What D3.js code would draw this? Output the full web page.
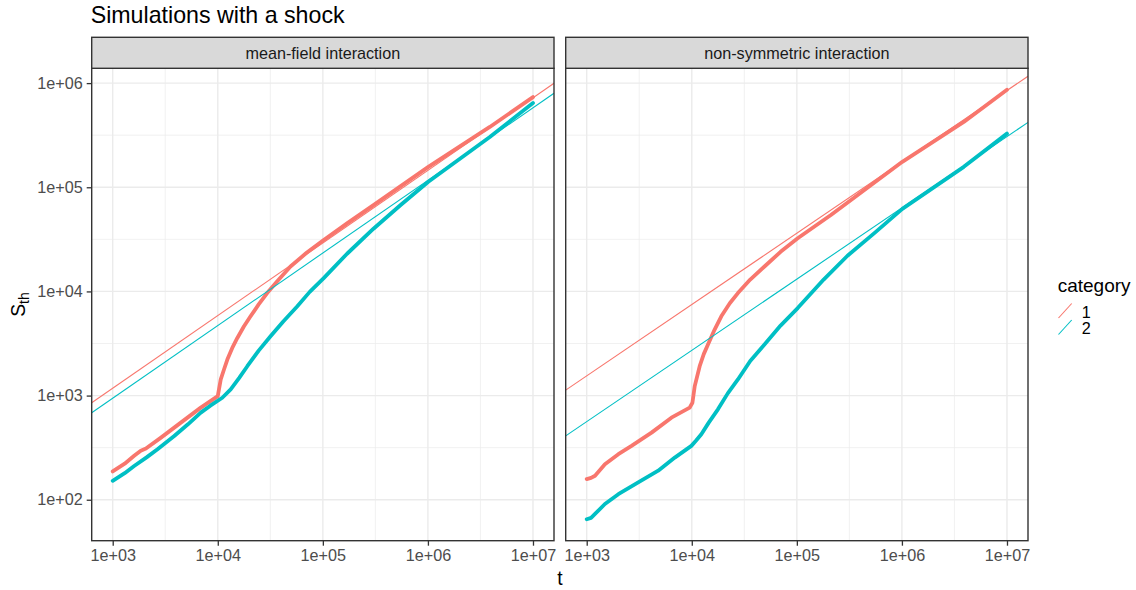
<!DOCTYPE html>
<html>
<head>
<meta charset="utf-8">
<script src="https://cdn.jsdelivr.net/npm/d3@7"></script>
<style>
  body { margin: 0; background: #fff; }
  svg { font-family: "Liberation Sans", Arial, sans-serif; }
</style>
</head>
<body>
<svg id="chart" width="1136" height="590"></svg>
<script>
// facet titles and legend categories
var panels = ["mean-field interaction", "non-symmetric interaction"];
var categories = ["1", "2"];
var colours = ["#F8766D", "#00BFC4"];

var tBreaks = [1e3, 1e4, 1e5, 1e6, 1e7];
var sBreaks = [1e2, 1e3, 1e4, 1e5, 1e6];

// mean-field, category 1
var mfT1 = [1000, 1300, 1600, 1850, 2070, 2880, 4450, 6890, 10000, 10670, 11500, 12330, 13700, 15350, 17700, 20510, 24500, 29510, 37000, 49200, 70000, 101900, 170000, 303400, 1009000, 3882000, 10000000];
var mfS1 = [187, 222, 264, 296, 310, 395, 550, 766, 989, 1429, 1800, 2218, 2850, 3573, 4600, 5768, 7500, 9638, 12600, 17340, 23500, 31190, 45000, 67450, 157000, 379300, 734500];
// mean-field, category 2
var mfT2 = [1000, 1300, 1600, 2100, 2670, 3850, 5200, 6890, 8500, 11040, 13270, 16000, 19100, 24500, 31770, 42000, 56890, 75000, 101900, 170000, 303400, 550000, 1009000, 3882000, 10000000];
var mfS2 = [152, 180, 211, 255, 305, 409, 530, 686, 800, 953, 1146, 1480, 1914, 2700, 3707, 5150, 7178, 9900, 13430, 23000, 40000, 67600, 113000, 304100, 644200];
// non-symmetric, category 1
var nsT1 = [1000, 1100, 1200, 1490, 2000, 2670, 4140, 6400, 9550, 10140, 10670, 11890, 13000, 14260, 16500, 19100, 23000, 27480, 36000, 49200, 70000, 101900, 210900, 1009000, 3882000, 10000000];
var nsS1 = [158, 162, 170, 219, 274, 329, 441, 614, 766, 853, 1233, 1914, 2500, 3090, 4300, 5768, 7700, 9638, 13000, 17340, 24000, 32360, 54200, 175400, 423600, 863000];
// non-symmetric, category 2
var nsT2 = [1000, 1100, 1200, 1490, 2000, 3090, 4790, 6890, 9910, 11000, 12330, 14500, 17740, 22000, 27480, 36000, 49200, 70000, 101900, 180000, 303400, 550000, 1009000, 3882000, 10000000];
var nsS2 = [65, 67, 73, 91, 113, 147, 190, 254, 329, 370, 425, 550, 738, 1050, 1429, 2150, 3090, 4700, 6918, 13000, 22000, 36500, 62000, 157000, 327300];

// fitted power laws: log10(S) = logC + slope * log10(t)
var fitSlope = [[0.697, 0.697], [0.685, 0.684]];
var fitLogC = [[0.980, 0.884], [1.134, 0.698]];

function init() {
    var svg = d3.select("#chart");

    var left = 91.7, top = 68.3, bottom = 540.7;
    var pw = 462.3, gap = 11.7, stripH = 31;

    var series = [
        [{t: mfT1, s: mfS1}, {t: mfT2, s: mfS2}],
        [{t: nsT1, s: nsS1}, {t: nsT2, s: nsS2}]
    ];

    // shared y scale, ggplot style 5% expansion in log space
    var allS = mfS1.concat(mfS2, nsS1, nsS2);
    var lo = Math.log10(d3.min(allS)), hi = Math.log10(d3.max(allS));
    var pad = (hi - lo) * 0.05;
    var yScale = d3.scaleLog()
        .domain([Math.pow(10, lo - pad), Math.pow(10, hi + pad)])
        .range([bottom, top]);

    var fmt = function(d) {
        var e = Math.round(Math.log10(d));
        return "1e+" + (e < 10 ? "0" + e : e);
    };

    // title
    svg.append("text")
        .attr("x", 90.7)
        .attr("y", 22.7)
        .style("font-size", "23.2px")
        .attr("fill", "#000")
        .text("Simulations with a shock");

    panels.forEach(function(name, p) {
        var x0 = left + p * (pw + gap);
        var xScale = d3.scaleLog()
            .domain([Math.pow(10, 2.8), Math.pow(10, 7.2)])
            .range([x0, x0 + pw]);

        var g = svg.append("g");

        // clip
        svg.append("clipPath").attr("id", "clip" + p)
            .append("rect")
            .attr("x", x0).attr("y", top)
            .attr("width", pw).attr("height", bottom - top);

        // minor grid at half decades
        var xMinor = [3.5, 4.5, 5.5, 6.5].map(function(e) { return Math.pow(10, e); });
        var yMinor = [2.5, 3.5, 4.5, 5.5].map(function(e) { return Math.pow(10, e); });

        g.selectAll(".xminor").data(xMinor).enter().append("line")
            .attr("x1", function(d) { return xScale(d); })
            .attr("x2", function(d) { return xScale(d); })
            .attr("y1", top).attr("y2", bottom)
            .attr("stroke", "#EBEBEB").attr("stroke-width", 0.7);
        g.selectAll(".yminor").data(yMinor).enter().append("line")
            .attr("y1", function(d) { return yScale(d); })
            .attr("y2", function(d) { return yScale(d); })
            .attr("x1", x0).attr("x2", x0 + pw)
            .attr("stroke", "#EBEBEB").attr("stroke-width", 0.7);

        g.selectAll(".xmajor").data(tBreaks).enter().append("line")
            .attr("x1", function(d) { return xScale(d); })
            .attr("x2", function(d) { return xScale(d); })
            .attr("y1", top).attr("y2", bottom)
            .attr("stroke", "#EBEBEB").attr("stroke-width", 1.4);
        g.selectAll(".ymajor").data(sBreaks).enter().append("line")
            .attr("y1", function(d) { return yScale(d); })
            .attr("y2", function(d) { return yScale(d); })
            .attr("x1", x0).attr("x2", x0 + pw)
            .attr("stroke", "#EBEBEB").attr("stroke-width", 1.4);

        // simulation curves
        var line = d3.line()
            .x(function(d) { return xScale(d[0]); })
            .y(function(d) { return yScale(d[1]); });

        series[p].forEach(function(sr, c) {
            var pts = d3.zip(sr.t, sr.s);
            g.append("path")
                .datum(pts)
                .attr("d", line)
                .attr("fill", "none")
                .attr("stroke", colours[c])
                .attr("stroke-width", 3.8)
                .attr("stroke-linejoin", "round")
                .attr("stroke-linecap", "round");
        });

        // fitted lines
        categories.forEach(function(cat, c) {
            var ends = xScale.domain().map(function(t) {
                return [t, Math.pow(10, fitLogC[p][c] + fitSlope[p][c] * Math.log10(t))];
            });
            g.append("path")
                .datum(ends)
                .attr("d", line)
                .attr("clip-path", "url(#clip" + p + ")")
                .attr("fill", "none")
                .attr("stroke", colours[c])
                .attr("stroke-width", 1.1);
        });

        // panel border
        g.append("rect")
            .attr("x", x0).attr("y", top)
            .attr("width", pw).attr("height", bottom - top)
            .attr("fill", "none")
            .attr("stroke", "#333333").attr("stroke-width", 1.4);

        // strip
        g.append("rect")
            .attr("x", x0).attr("y", top - stripH)
            .attr("width", pw).attr("height", stripH)
            .attr("fill", "#D9D9D9")
            .attr("stroke", "#333333").attr("stroke-width", 1.4);
        g.append("text")
            .attr("x", x0 + pw / 2)
            .attr("y", top - stripH / 2 + 5.8)
            .attr("text-anchor", "middle")
            .style("font-size", "16.2px")
            .attr("fill", "#1A1A1A")
            .text(name);

        // x axis
        var xAxis = d3.axisBottom(xScale)
            .tickValues(tBreaks)
            .tickFormat(fmt)
            .tickSize(5)
            .tickPadding(4);
        var ax = svg.append("g")
            .attr("transform", "translate(0," + bottom + ")")
            .call(xAxis);
        ax.select(".domain").remove();
        ax.selectAll(".tick line").attr("stroke", "#333333").attr("stroke-width", 1.3);
        ax.selectAll(".tick text")
            .attr("fill", "#4D4D4D")
            .style("font-size", "16.2px")
            .style("font-family", "Liberation Sans, Arial, sans-serif");

        // y axis only on the first panel
        if (p === 0) {
            var yAxis = d3.axisLeft(yScale)
                .tickValues(sBreaks)
                .tickFormat(fmt)
                .tickSize(5)
                .tickPadding(4);
            var ay = svg.append("g")
                .attr("transform", "translate(" + x0 + ",0)")
                .call(yAxis);
            ay.select(".domain").remove();
            ay.selectAll(".tick line").attr("stroke", "#333333").attr("stroke-width", 1.3);
            ay.selectAll(".tick text")
                .attr("fill", "#4D4D4D")
                .style("font-size", "16.2px")
                .style("font-family", "Liberation Sans, Arial, sans-serif");
        }
    });

    // axis titles
    svg.append("text")
        .attr("x", left + pw + gap / 2)
        .attr("y", 585)
        .attr("text-anchor", "middle")
        .style("font-size", "19.3px")
        .text("t");

    var yt = svg.append("text")
        .attr("transform", "translate(25," + ((top + bottom) / 2) + ") rotate(-90)")
        .attr("text-anchor", "middle")
        .style("font-size", "19.3px");
    yt.append("tspan").text("S");
    yt.append("tspan")
        .attr("dy", 4)
        .style("font-size", "14px")
        .text("th");

    // legend
    var lx = 1057.7;
    svg.append("text")
        .attr("x", lx).attr("y", 291.7)
        .style("font-size", "19px")
        .text("category");

    categories.forEach(function(cat, c) {
        var cy = 311 + c * 16.5;
        svg.append("line")
            .attr("x1", lx + 0.8).attr("y1", cy + 7)
            .attr("x2", lx + 14).attr("y2", cy - 7.5)
            .attr("stroke", colours[c]).attr("stroke-width", 1.1);
        svg.append("text")
            .attr("x", lx + 24).attr("y", cy + 6.5)
            .style("font-size", "16.2px")
            .attr("fill", "#000")
            .text(cat);
    });
}

window.onload = init;
</script>
</body>
</html>
